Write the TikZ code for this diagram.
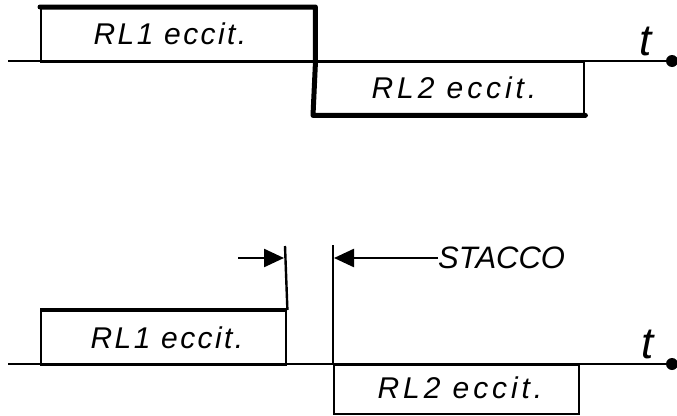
\documentclass[tikz,border=0pt]{standalone}
\usepackage{fontspec}
\setmainfont{Liberation Sans}[LetterSpace=8]
\newfontfamily\widesans{Liberation Sans}[LetterSpace=13]
\newfontfamily\plainsans{Liberation Sans}
\usetikzlibrary{arrows.meta}
\tikzset{
  thin line/.style={line width=2.4pt},
  thick line/.style={line width=5pt},
  box/.style={draw, line width=2.4pt, rectangle, inner sep=0pt, anchor=north west},
  lab/.style={font=\fontsize{30}{34}\selectfont\itshape, inner sep=0pt},
  wlab/.style={font=\widesans\fontsize{30}{34}\selectfont\itshape, inner sep=0pt},
  plab/.style={font=\plainsans\fontsize{31}{34}\selectfont\itshape, inner sep=0pt},
  tlab/.style={font=\plainsans\fontsize{44}{48}\selectfont\itshape, inner sep=0pt},
  arr/.style={line width=2.4pt, -{Triangle[length=20pt,width=18pt]}},
}
\begin{document}
\begin{tikzpicture}[x=1pt,y=-1pt]
\useasboundingbox (0,0) rectangle (677,415);
% ---------- top diagram ----------
\coordinate (ta0) at (8,61);
\coordinate (ta1) at (672,61);
\node[box, minimum width=273, minimum height=54] (r1a) at (40,7) {};
\node[lab] (r1at) at (170,34) {RL1 eccit.};
\node[box, minimum width=270, minimum height=52] (r2a) at (313,61) {};
\node[wlab] (r2at) at (454,88) {RL2 eccit.};
\draw[thin line] (ta0) -- (ta1);
\fill (ta1) circle (6);
\draw[thick line, line cap=round, line join=round] (r1a.north west) -- (r1a.north east) -- (r1a.south east) -- (r2a.south west) -- (r2a.south east);
\node[tlab] (t1) at (646,41) {t};
% ---------- bottom diagram ----------
\coordinate (ba0) at (8,364);
\coordinate (ba1) at (672,364);
\node[box, minimum width=245, minimum height=54] (r1b) at (40,310) {};
\node[lab] (r1bt) at (167,338) {RL1 eccit.};
\node[box, minimum width=245, minimum height=49] (r2b) at (333,364) {};
\node[wlab] (r2bt) at (460,388) {RL2 eccit.};
\draw[thin line] (ba0) -- (ba1);
\fill (ba1) circle (6);
\draw[line width=4pt] (r1b.north west) -- (r1b.north east);
\coordinate (v1) at (285,246);
\coordinate (v2) at (333,245);
\draw[thin line] (r1b.north east) -- (v1);
\draw[thin line] (r2b.north west) -- (v2);
\coordinate (a1s) at (238,258);
\coordinate (a1e) at (284,258);
\draw[arr] (a1s) -- (a1e);
\node[plab, anchor=west] (st) at (438,258) {STACCO};
\coordinate (a2e) at (334,258);
\draw[arr] (st.west) -- (a2e);
\node[tlab] (t2) at (648,344) {t};
\end{tikzpicture}
\end{document}
